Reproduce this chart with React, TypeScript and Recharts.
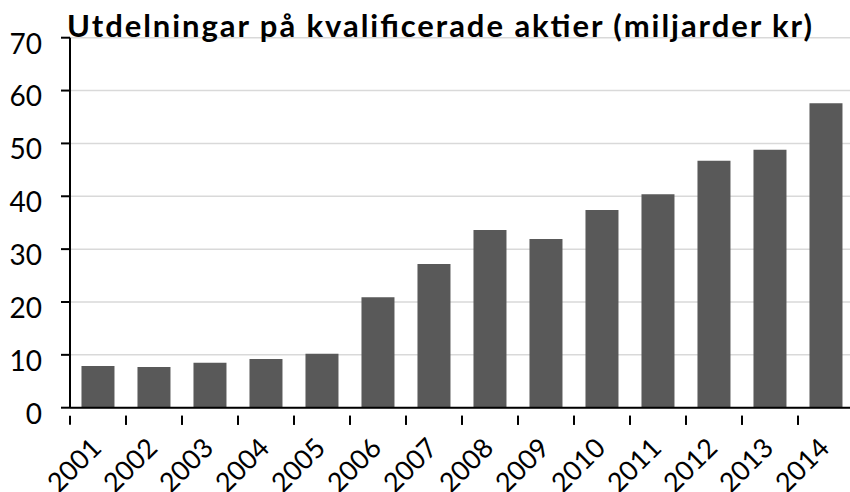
import React from "react";
import { BarChart, Bar, XAxis, YAxis, CartesianGrid } from "recharts";

const years = ["2001","2002","2003","2004","2005","2006","2007","2008","2009","2010","2011","2012","2013","2014"];
const values = [7.9, 7.7, 8.5, 9.2, 10.2, 20.9, 27.2, 33.6, 31.9, 37.4, 40.4, 46.7, 48.8, 57.6];
const yTicks = [0, 10, 20, 30, 40, 50, 60, 70];
const title = "Utdelningar på kvalificerade aktier (miljarder kr)";

const data = years.map((y, i) => ({ year: y, value: values[i] }));

const FONT = "Lato, 'Open Sans', sans-serif";

const YTick = (props: any) => {
  const { x, y, payload } = props;
  return (
    <text x={x} y={y + 6} dy="0.355em" textAnchor="end" fontFamily={FONT} fontSize={28} fill="#000">
      {payload.value}
    </text>
  );
};

const XTick = (props: any) => {
  const { x, y, payload } = props;
  const half = payload && payload.offset ? payload.offset : 28;
  const ax = x + 5;
  const ay = y + 34;
  return (
    <g>
      <line x1={x - half} x2={x - half} y1={y} y2={y + 9} stroke="#000" strokeWidth={2} />
      <line x1={x + half} x2={x + half} y1={y} y2={y + 9} stroke="#000" strokeWidth={2} />
      <text
        x={ax}
        y={ay}
        textAnchor="end"
        fontFamily={FONT}
        fontSize={27}
        fill="#000"
        transform={`rotate(-45, ${ax}, ${ay})`}
      >
        {payload.value}
      </text>
    </g>
  );
};

export default function App() {
  return (
    <div style={{ position: "absolute", left: 0, top: 0, width: 850, height: 492, overflow: "hidden", background: "#fff" }}>
      <BarChart
        width={854}
        height={492}
        data={data}
        margin={{ top: 37.7, right: 0, bottom: 0, left: 0 }}
        barCategoryGap="20.5%"
      >
        <CartesianGrid horizontal vertical={false} stroke="#d9d9d9" strokeWidth={1.5} />
        <XAxis
          dataKey="year"
          height={84.3}
          axisLine={{ stroke: "#000", strokeWidth: 2 }}
          tickLine={false}
          tick={<XTick />}
          interval={0}
        />
        <YAxis
          width={70}
          domain={[0, 70]}
          ticks={yTicks}
          axisLine={{ stroke: "#000", strokeWidth: 2 }}
          tickLine={{ stroke: "#000", strokeWidth: 2 }}
          tickSize={9}
          tickMargin={19}
          tick={<YTick />}
          interval={0}
        />
        <Bar dataKey="value" fill="#595959" isAnimationActive={false} />
      </BarChart>
      <svg width={850} height={60} style={{ position: "absolute", left: 0, top: 0, pointerEvents: "none" }}>
        <text
          x={67}
          y={37.3}
          fontFamily={FONT}
          fontWeight="bold"
          fontSize={31}
          fill="#000"
          textLength={745}
          lengthAdjust="spacing"
        >
          {title}
        </text>
      </svg>
    </div>
  );
}
